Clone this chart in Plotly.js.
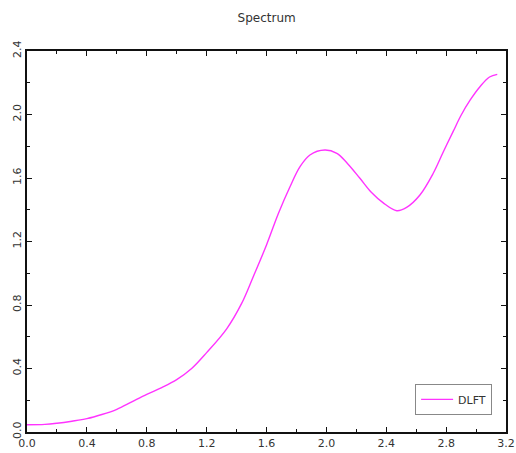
<!DOCTYPE html>
<html>
<head>
<meta charset="utf-8">
<script src="https://cdn.plot.ly/plotly-3.0.1.min.js"></script>
<style>html,body{margin:0;padding:0;background:#fff;}#chart{width:516px;height:453px;}</style>
</head>
<body>
<div id="chart"></div>
<script>
const seriesName = "DLFT";
const freq = [0.0, 0.12, 0.2, 0.3, 0.4, 0.5, 0.6, 0.7, 0.8, 0.9, 1.0, 1.1, 1.2, 1.334, 1.434, 1.51, 1.6, 1.68, 1.757, 1.824, 1.89, 1.99, 2.07, 2.135, 2.224, 2.3, 2.38, 2.47, 2.536, 2.625, 2.714, 2.78, 2.848, 2.9, 2.96, 3.026, 3.09, 3.1416];
const power = [0.046, 0.048, 0.055, 0.068, 0.084, 0.11, 0.143, 0.19, 0.237, 0.28, 0.33, 0.40, 0.50, 0.65, 0.81, 0.975, 1.178, 1.378, 1.545, 1.671, 1.745, 1.776, 1.755, 1.698, 1.598, 1.51, 1.443, 1.394, 1.415, 1.493, 1.63, 1.762, 1.895, 1.995, 2.09, 2.175, 2.236, 2.253];
const xTicks = [0.0, 0.4, 0.8, 1.2, 1.6, 2.0, 2.4, 2.8, 3.2];
const yTicks = [0.0, 0.4, 0.8, 1.2, 1.6, 2.0, 2.4];

const fontFam = "DejaVu Sans, Liberation Sans, sans-serif";
const axisCommon = {
  showgrid: false, zeroline: false, showline: true, linewidth: 2, linecolor: '#111',
  mirror: 'ticks', ticks: 'inside', ticklen: 5, tickwidth: 1, tickcolor: '#111',
  tickformat: '.1f', tickmode: 'array',
  minor: {ticks: 'inside', ticklen: 3, tickwidth: 1, tickcolor: '#111', dtick: 0.2, showgrid: false},
  tickfont: {family: fontFam, size: 11, color: '#333'}
};
const layout = {
  width: 516, height: 453,
  margin: {l: 27, r: 10, t: 51, b: 21},
  paper_bgcolor: '#fff', plot_bgcolor: '#fff',
  title: {text: 'Spectrum', x: 0.5167, xanchor: 'center', y: 0.96, yanchor: 'middle',
          font: {family: fontFam, size: 12, color: '#333'}},
  xaxis: Object.assign({}, axisCommon, {range: [0, 3.2], tickvals: xTicks}),
  yaxis: Object.assign({}, axisCommon, {range: [0, 2.4], tickvals: yTicks, tickangle: -90}),
  showlegend: true,
  legend: {x: 0.971, xanchor: 'right', y: 0.045, yanchor: 'bottom',
           bordercolor: '#888', borderwidth: 1, bgcolor: '#fff', itemwidth: 32,
           font: {family: fontFam, size: 11, color: '#333'}}
};
Plotly.newPlot('chart', [{
  x: freq, y: power, type: 'scatter', mode: 'lines', name: seriesName,
  line: {color: '#ff33ff', width: 1.4, shape: 'spline', smoothing: 1}
}], layout, {displayModeBar: false, staticPlot: true});
</script>
</body>
</html>
